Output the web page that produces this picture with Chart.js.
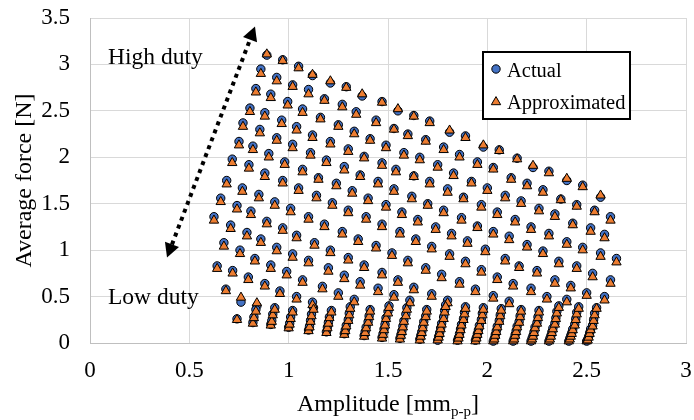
<!DOCTYPE html>
<html><head><meta charset="utf-8">
<script src="https://cdn.jsdelivr.net/npm/chart.js@4.4.1/dist/chart.umd.min.js"></script>
<style>html,body{margin:0;padding:0;background:#fff;}#wrap{width:694px;height:420px;}</style>
</head><body><div id="wrap"><canvas id="c" width="694" height="420"></canvas></div>
<script>
// Upper field (rows of constant duty, top to bottom)
const amplitudeUpper = [
 0.89,0.97,1.05,1.12,1.21,1.29,1.37,1.47,1.55,1.63,1.71,1.81,1.89,1.98,2.06,2.15,2.23,2.31,2.40,2.48,2.57,
 0.86,0.94,1.02,1.10,1.18,1.27,1.34,1.44,1.53,1.60,1.69,1.78,1.86,1.95,2.03,2.12,2.20,2.28,2.37,2.45,2.54,2.62,
 0.835,0.91,0.995,1.07,1.16,1.25,1.33,1.41,1.49,1.58,1.66,1.75,1.83,1.92,2.00,2.09,2.17,2.26,2.34,2.43,2.52,2.59,
 0.805,0.88,0.965,1.04,1.12,1.21,1.30,1.38,1.47,1.54,1.63,1.71,1.80,1.88,1.97,2.05,2.14,2.22,2.31,2.40,2.48,2.57,2.65,
 0.77,0.855,0.94,1.02,1.11,1.19,1.28,1.36,1.45,1.53,1.62,1.70,1.78,1.87,1.95,2.03,2.11,2.20,2.28,2.36,2.45,2.53,2.62,
 0.75,0.82,0.90,0.98,1.07,1.15,1.24,1.32,1.40,1.49,1.57,1.65,1.74,1.82,1.90,1.99,2.09,2.16,2.25,2.34,2.42,2.50,2.59,
 0.716,0.80,0.88,0.97,1.05,1.14,1.22,1.30,1.39,1.47,1.56,1.64,1.72,1.81,1.89,1.97,2.05,2.13,2.22,2.30,2.40,
 0.688,0.767,0.85,0.93,1.01,1.10,1.18,1.27,1.35,1.44,1.52,1.60,1.69,1.77,1.86,1.94,2.03,2.11,
 0.658,0.74,0.81,0.89,0.97,1.04,1.13,1.21,1.30,1.38,1.47,1.55,1.63,1.72,1.80,
 0.624,0.708,0.79,0.86,0.94,1.02,1.10,1.20,1.28,1.36,1.45,1.53,1.61,
 0.674,0.755,0.83,0.91,0.99,1.07,1.17,1.25,1.33,
 0.64,0.718,0.797,0.88,0.956,1.04,1.12,
 0.684,0.76,0.84
];
const forceActualUpper = [
 3.10,3.05,2.98,2.88,2.80,2.76,2.66,2.60,2.50,2.45,2.39,2.27,2.23,2.11,2.08,1.99,1.89,1.85,1.75,1.70,1.57,
 2.95,2.86,2.78,2.73,2.63,2.57,2.49,2.40,2.31,2.25,2.19,2.11,2.03,1.95,1.89,1.78,1.72,1.65,1.55,1.49,1.43,1.36,
 2.74,2.68,2.60,2.52,2.43,2.35,2.28,2.20,2.13,2.05,2.00,1.92,1.83,1.74,1.67,1.59,1.53,1.45,1.39,1.29,1.24,1.17,
 2.53,2.48,2.40,2.33,2.24,2.17,2.09,2.01,1.94,1.87,1.80,1.74,1.66,1.57,1.49,1.41,1.33,1.25,1.18,1.09,1.03,0.97,0.91,
 2.37,2.30,2.21,2.14,2.05,1.97,1.90,1.81,1.74,1.66,1.58,1.50,1.43,1.35,1.26,1.20,1.15,1.06,0.99,0.88,0.83,0.75,0.68,
 2.17,2.12,2.04,1.95,1.87,1.78,1.72,1.64,1.56,1.49,1.41,1.33,1.25,1.18,1.10,1.01,0.91,0.83,0.78,0.68,0.62,0.54,0.50,
 1.98,1.92,1.83,1.75,1.67,1.59,1.51,1.43,1.36,1.28,1.20,1.12,1.04,0.96,0.88,0.79,0.71,0.64,0.59,0.50,0.47,
 1.75,1.67,1.60,1.52,1.45,1.36,1.28,1.20,1.12,1.05,0.97,0.89,0.81,0.74,0.66,0.58,0.51,0.45,
 1.56,1.48,1.42,1.31,1.24,1.16,1.08,1.00,0.92,0.84,0.76,0.68,0.60,0.53,0.46,
 1.36,1.27,1.19,1.12,1.03,0.96,0.89,0.81,0.73,0.66,0.59,0.52,0.46,
 1.08,1.00,0.91,0.84,0.77,0.68,0.61,0.54,0.47,
 0.83,0.78,0.71,0.64,0.56,0.50,0.44,
 0.58,0.44,0.40
];
const forceApproxUpper = [
 3.11,3.04,2.96,2.89,2.82,2.75,2.68,2.59,2.52,2.44,2.37,2.29,2.21,2.13,2.07,1.98,1.91,1.83,1.77,1.68,1.59,
 2.90,2.82,2.76,2.68,2.61,2.54,2.46,2.37,2.30,2.23,2.17,2.08,2.00,1.92,1.87,1.76,1.69,1.62,1.54,1.47,1.41,1.32,
 2.70,2.64,2.56,2.48,2.41,2.33,2.25,2.18,2.10,2.02,1.97,1.89,1.80,1.72,1.64,1.56,1.50,1.42,1.36,1.27,1.20,1.13,
 2.49,2.44,2.36,2.29,2.21,2.14,2.06,1.99,1.91,1.84,1.79,1.71,1.62,1.55,1.46,1.38,1.30,1.22,1.15,1.06,1.00,0.93,0.87,
 2.33,2.26,2.18,2.10,2.02,1.94,1.86,1.79,1.71,1.63,1.55,1.48,1.40,1.32,1.24,1.17,1.11,1.03,0.96,0.85,0.80,0.71,0.64,
 2.13,2.08,2.00,1.92,1.84,1.76,1.69,1.61,1.53,1.46,1.38,1.30,1.22,1.15,1.07,0.98,0.88,0.81,0.75,0.64,0.59,0.51,0.46,
 1.94,1.88,1.79,1.72,1.64,1.56,1.48,1.40,1.33,1.25,1.17,1.09,1.01,0.93,0.85,0.76,0.68,0.61,0.55,0.47,0.44,
 1.71,1.63,1.56,1.48,1.41,1.33,1.25,1.17,1.09,1.02,0.94,0.86,0.78,0.70,0.63,0.55,0.48,0.42,
 1.52,1.44,1.38,1.28,1.21,1.13,1.05,0.97,0.89,0.81,0.73,0.65,0.57,0.50,0.43,
 1.32,1.23,1.15,1.08,0.99,0.92,0.86,0.77,0.69,0.62,0.55,0.49,0.43,
 1.04,0.96,0.88,0.80,0.73,0.65,0.58,0.50,0.44,
 0.80,0.75,0.68,0.61,0.53,0.47,0.41,
 0.56,0.49,0.43
];
// Lower field (low-duty stacks near zero force)
const amplitudeLower = [
 0.74,
 0.82,0.825,0.835,
 0.91,0.915,0.92,0.93,
 1.00,1.005,1.01,1.02,
 1.10,1.105,1.11,1.115,1.125,
 1.19,1.195,1.20,1.205,1.215,
 1.28,1.285,1.29,1.30,1.305,1.31,
 1.38,1.385,1.39,1.40,1.405,1.41,
 1.47,1.475,1.48,1.485,1.49,1.50,1.505,
 1.56,1.565,1.57,1.575,1.58,1.59,1.595,
 1.66,1.665,1.67,1.675,1.68,1.69,1.695,
 1.75,1.755,1.76,1.765,1.77,1.78,1.785,1.79,
 1.85,1.855,1.86,1.865,1.87,1.88,1.885,1.89,
 1.94,1.945,1.95,1.955,1.96,1.97,1.975,1.98,
 2.03,2.035,2.04,2.045,2.05,2.06,2.065,2.07,
 2.13,2.135,2.14,2.145,2.15,2.16,2.165,2.17,
 2.22,2.225,2.23,2.235,2.24,2.25,2.255,2.26,
 2.31,2.315,2.32,2.325,2.33,2.34,2.345,2.35,2.36,
 2.41,2.415,2.42,2.425,2.43,2.44,2.445,2.45,2.46,
 2.50,2.505,2.51,2.515,2.52,2.53,2.535,2.54,2.55
];
const forceActualLower = [
 0.26,
 0.22,0.28,0.36,
 0.20,0.24,0.31,0.38,
 0.17,0.21,0.28,0.35,
 0.14,0.18,0.24,0.31,0.38,
 0.12,0.17,0.22,0.28,0.35,
 0.10,0.14,0.19,0.25,0.32,0.39,
 0.08,0.12,0.17,0.23,0.29,0.36,
 0.06,0.10,0.15,0.20,0.27,0.34,0.40,
 0.05,0.09,0.13,0.18,0.24,0.31,0.38,
 0.04,0.08,0.12,0.17,0.23,0.29,0.36,
 0.03,0.07,0.11,0.16,0.21,0.28,0.35,0.41,
 0.03,0.06,0.10,0.15,0.20,0.26,0.33,0.39,
 0.03,0.06,0.10,0.14,0.19,0.25,0.32,0.38,
 0.02,0.05,0.09,0.13,0.18,0.24,0.30,0.37,
 0.02,0.05,0.09,0.13,0.18,0.23,0.29,0.36,
 0.02,0.05,0.08,0.12,0.17,0.22,0.28,0.35,
 0.02,0.05,0.08,0.12,0.16,0.21,0.27,0.34,0.40,
 0.02,0.05,0.08,0.11,0.15,0.20,0.26,0.33,0.39,
 0.02,0.04,0.07,0.11,0.15,0.19,0.25,0.32,0.38
];
const forceApproxLower = [
 0.25,
 0.21,0.27,0.34,
 0.19,0.23,0.30,0.36,
 0.16,0.20,0.26,0.33,
 0.13,0.17,0.23,0.29,0.36,
 0.11,0.16,0.21,0.27,0.33,
 0.09,0.13,0.18,0.24,0.30,0.37,
 0.07,0.11,0.16,0.22,0.28,0.34,
 0.05,0.09,0.14,0.19,0.26,0.32,0.38,
 0.04,0.08,0.12,0.17,0.23,0.29,0.36,
 0.03,0.07,0.11,0.16,0.22,0.28,0.34,
 0.03,0.06,0.10,0.15,0.20,0.26,0.33,0.39,
 0.02,0.05,0.09,0.14,0.19,0.25,0.31,0.37,
 0.02,0.05,0.09,0.13,0.18,0.24,0.30,0.36,
 0.02,0.04,0.08,0.12,0.17,0.23,0.29,0.35,
 0.02,0.04,0.08,0.12,0.17,0.22,0.28,0.34,
 0.02,0.04,0.07,0.11,0.16,0.21,0.27,0.33,
 0.02,0.04,0.07,0.11,0.15,0.20,0.26,0.32,0.38,
 0.02,0.04,0.07,0.10,0.14,0.19,0.25,0.31,0.37,
 0.02,0.03,0.06,0.10,0.14,0.18,0.24,0.30,0.37
];
const xTicks = [0,0.5,1,1.5,2,2.5,3];
const yTicks = [0,0.5,1,1.5,2,2.5,3,3.5];
const seriesNames = ['Actual','Approximated'];

const amplitudeAll = amplitudeUpper.concat(amplitudeLower);
const actualAll = forceActualUpper.concat(forceActualLower);
const approxAll = forceApproxUpper.concat(forceApproxLower);
const actualPts = amplitudeAll.map((x,i)=>({x:x,y:actualAll[i]}));
const approxPts = amplitudeAll.map((x,i)=>({x:x,y:approxAll[i]}));

const SERIF = "'Liberation Serif','Times New Roman',serif";
const BLUE = '#4472C4', ORANGE = '#ED7D31';
const R_CIRCLE = 4.2, R_TRI = 5.4;

function marker(ctx, style, r, x, y, fill){
  ctx.save();
  ctx.beginPath();
  if(style==='circle'){ ctx.arc(x,y,r,0,Math.PI*2); }
  else {
    let a=0; ctx.moveTo(x+Math.sin(a)*r, y-Math.cos(a)*r);
    a+=Math.PI*2/3; ctx.lineTo(x+Math.sin(a)*r, y-Math.cos(a)*r);
    a+=Math.PI*2/3; ctx.lineTo(x+Math.sin(a)*r, y-Math.cos(a)*r);
    ctx.closePath();
  }
  ctx.fillStyle=fill; ctx.fill();
  ctx.lineWidth=1; ctx.strokeStyle='#000'; ctx.stroke();
  ctx.restore();
}

const overlay = {
  id:'overlay',
  afterDraw(chart){
    const ctx = chart.ctx, ca = chart.chartArea;
    ctx.save();
    ctx.fillStyle='#000';
    ctx.save();
    ctx.translate(25,(ca.top+ca.bottom)/2);
    ctx.rotate(-Math.PI/2);
    ctx.font = '24px '+SERIF; ctx.textAlign='center'; ctx.textBaseline='middle';
    ctx.fillText('Average force [N]',0,0);
    ctx.restore();
    const big='24px '+SERIF, small='15px '+SERIF;
    ctx.font=big; const w1=ctx.measureText('Amplitude [mm').width; const w3=ctx.measureText(']').width;
    ctx.font=small; const w2=ctx.measureText('p-p').width;
    let sx=(ca.left+ca.right)/2-(w1+w2+w3)/2; const by=411;
    ctx.textAlign='left'; ctx.textBaseline='alphabetic';
    ctx.font=big; ctx.fillText('Amplitude [mm',sx,by);
    ctx.font=small; ctx.fillText('p-p',sx+w1,by+5);
    ctx.font=big; ctx.fillText(']',sx+w1+w2,by);
    ctx.font='23.5px '+SERIF;
    ctx.fillText('High duty',108,64);
    ctx.fillText('Low duty',108,304);
    const tT=[255,26.5], tB=[167,257.5];
    const dx=tT[0]-tB[0], dy=tT[1]-tB[1], L=Math.hypot(dx,dy), ux=dx/L, uy=dy/L, px=-uy, py=ux;
    const hl=14, hw=7.5;
    ctx.strokeStyle='#000'; ctx.lineWidth=4; ctx.setLineDash([4,4.5]); ctx.lineCap='butt';
    ctx.beginPath(); ctx.moveTo(tB[0]+ux*hl,tB[1]+uy*hl); ctx.lineTo(tT[0]-ux*hl,tT[1]-uy*hl); ctx.stroke();
    ctx.setLineDash([]);
    function head(t,sx2,sy2){
      const bx=t[0]-sx2*hl, by2=t[1]-sy2*hl;
      ctx.beginPath(); ctx.moveTo(t[0],t[1]); ctx.lineTo(bx+px*hw,by2+py*hw); ctx.lineTo(bx-px*hw,by2-py*hw); ctx.closePath(); ctx.fill();
    }
    head(tT,ux,uy); head(tB,-ux,-uy);
    ctx.fillStyle='#fff'; ctx.fillRect(483,52,147,67);
    ctx.strokeStyle='#000'; ctx.lineWidth=2; ctx.strokeRect(483,52,147,67);
    marker(ctx,'circle',R_CIRCLE,496,69,BLUE);
    marker(ctx,'triangle',R_TRI,496,102,ORANGE);
    ctx.fillStyle='#000'; ctx.font='20.5px '+SERIF; ctx.textAlign='left'; ctx.textBaseline='alphabetic';
    ctx.fillText(seriesNames[0],507,76.5);
    ctx.fillText(seriesNames[1],507,108.5);
    ctx.restore();
  }
};

new Chart(document.getElementById('c'),{
  type:'scatter',
  data:{datasets:[
    {label:seriesNames[1],data:approxPts,pointStyle:'triangle',pointRadius:R_TRI,pointHoverRadius:R_TRI,backgroundColor:ORANGE,borderColor:'#000',borderWidth:1,order:0,clip:false},
    {label:seriesNames[0],data:actualPts,pointStyle:'circle',pointRadius:R_CIRCLE,pointHoverRadius:R_CIRCLE,backgroundColor:BLUE,borderColor:'#000',borderWidth:1,order:1,clip:false}
  ]},
  options:{
    responsive:false, animation:false, events:[],
    layout:{padding:{left:0,right:8,top:18,bottom:0},autoPadding:false},
    plugins:{legend:{display:false},tooltip:{enabled:false}},
    scales:{
      x:{type:'linear',min:0,max:3,offset:false,
         afterBuildTicks:s=>{s.ticks=xTicks.map(v=>({value:v}));},
         afterFit:s=>{s.height=77;s.paddingLeft=0;s.paddingRight=0;},
         ticks:{font:{family:SERIF,size:23},color:'#000',padding:14,maxRotation:0,autoSkip:false,callback:v=>String(v)},
         grid:{color:'#d9d9d9',drawTicks:false,lineWidth:1},
         border:{color:'#bfbfbf'}},
      y:{type:'linear',min:0,max:3.5,
         afterBuildTicks:s=>{s.ticks=yTicks.map(v=>({value:v}));},
         afterFit:s=>{s.width=90;s.paddingTop=0;s.paddingBottom=0;},
         ticks:{font:{family:SERIF,size:23},color:'#000',padding:20,autoSkip:false,callback:v=>String(v)},
         grid:{color:'#d9d9d9',drawTicks:false,lineWidth:1},
         border:{color:'#bfbfbf'}}
    }
  },
  plugins:[overlay]
});
</script></body></html>
